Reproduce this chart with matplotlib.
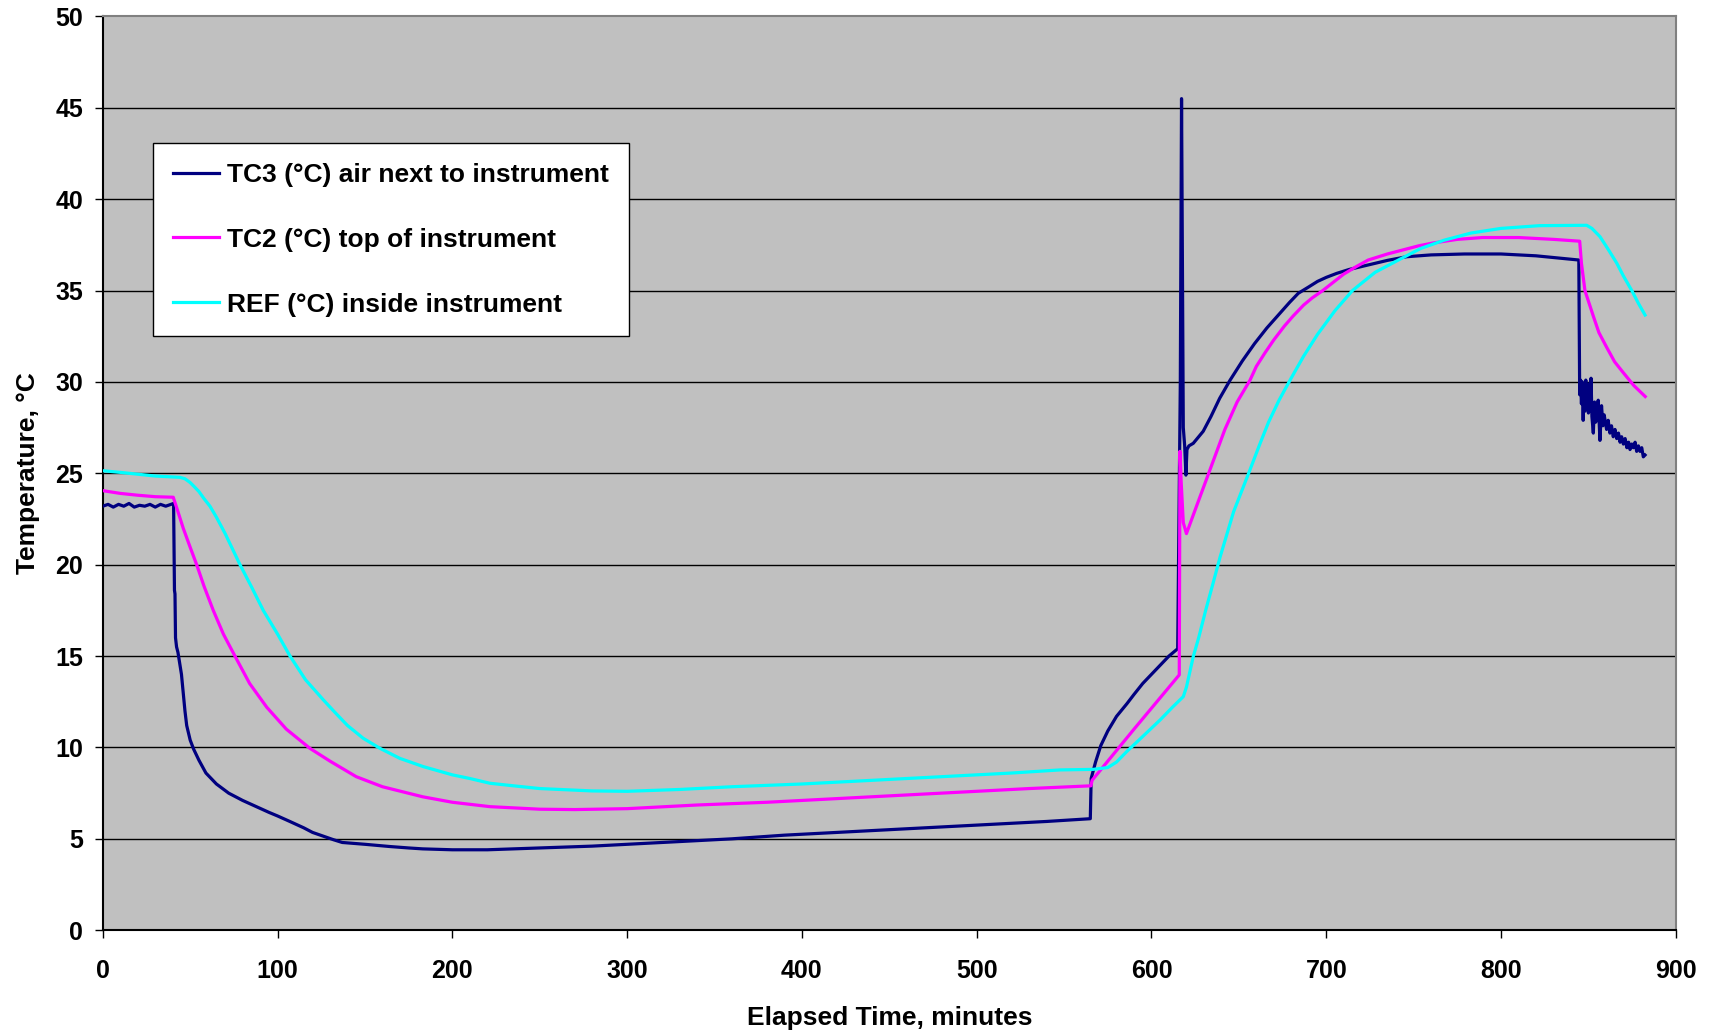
import numpy as np
import matplotlib
matplotlib.use("Agg")
import matplotlib.pyplot as plt

plt.rcParams['font.family'] = ['Liberation Sans', 'DejaVu Sans']
plt.rcParams['font.weight'] = 'bold'

# TC3 (air next to instrument) - elapsed minutes / degC
tc3_time = [0, 3, 6, 9, 12, 15, 18, 21, 24, 27, 30, 33, 36, 39, 40.5,
            40.8, 41.0, 41.3, 41.6, 42.2, 43, 44, 45, 46, 47, 48, 50, 52, 55,
            59, 65, 72, 80, 88, 95, 100, 107, 115, 120, 126, 132, 137, 150,
            164, 175, 183, 200,
            220, 250, 280, 300, 330, 360, 390, 420, 450, 480, 510, 540, 565,
            565.5, 568, 571, 575, 580, 586, 590, 595, 600, 605, 610, 615,
            616.5, 617.2, 617.8, 618.2, 619, 619.7, 620.3, 621.4, 623.9,
            629.6, 634, 639, 645, 652, 659, 666, 673, 679, 684, 690, 695, 700,
            706, 713, 724, 735, 746, 760, 779, 800, 820, 844.5,
            845.0, 845.5, 846.0, 846.5, 847.0, 847.5, 848.0, 848.5, 849.0,
            849.5, 850.0, 850.5, 851.0, 851.5, 852.0, 852.8, 853.5, 854.2,
            855.0, 855.6, 856.6, 857.5, 858.3, 859.0, 860.4, 861.3, 862.3,
            863.2, 864.2, 865.2, 866.2, 867.2, 868.1, 869.0, 870.0, 871.0,
            872.0, 873.0, 873.8, 874.8, 875.7, 876.7, 877.6, 878.6, 879.5,
            880.5, 881.4, 882.4]
tc3_temp = [23.2, 23.3, 23.15, 23.3, 23.2, 23.35, 23.15, 23.25, 23.2, 23.3,
            23.15, 23.3, 23.2, 23.3, 23.35,
            20.5, 18.6, 18.4, 16.0, 15.5, 15.2, 14.6, 14.0, 13.0, 12.0, 11.2,
            10.4, 9.9, 9.3,
            8.6, 8.0, 7.5, 7.1, 6.75, 6.45, 6.25, 5.95, 5.6, 5.35, 5.15, 4.95,
            4.8, 4.7,
            4.58, 4.5, 4.45, 4.4,
            4.4, 4.5, 4.6, 4.7, 4.85, 5.0, 5.2, 5.35, 5.5, 5.65, 5.8, 5.95,
            6.1,
            8.3, 9.2, 10.1, 10.9, 11.7, 12.4, 12.9, 13.5, 14.0, 14.5, 15.0,
            15.4,
            30.0, 45.5, 35.0, 27.5, 26.5, 24.9, 26.3, 26.5, 26.64,
            27.3, 28.1, 29.1, 30.1, 31.15, 32.1, 32.95, 33.7, 34.35, 34.85,
            35.2, 35.5, 35.72,
            35.94, 36.15, 36.4, 36.65, 36.85, 36.95, 37.0, 37.0, 36.9, 36.67,
            29.3, 30.1, 28.8, 30.0, 27.9, 29.8, 28.4, 30.1, 28.6,
            29.4, 28.3, 29.9, 28.4, 30.2, 28.1, 27.2, 28.9, 27.8,
            28.6, 29.0, 26.8, 28.7, 27.6, 28.2, 27.4, 27.9, 27.2,
            27.6, 27.0, 27.4, 26.9, 27.2, 26.7, 27.0, 26.6, 26.9,
            26.4, 26.7, 26.3, 26.6, 26.4, 26.7, 26.2, 26.5, 26.2,
            26.4, 25.9, 26.0]

# TC2 (top of instrument)
tc2_time = [0, 10, 20, 30, 40.3, 43, 46, 50, 53.7, 58, 63.2, 69, 75.6, 84,
            93.8, 105, 118.5, 130, 145, 160, 183, 200, 221.5, 250, 270, 300,
            340, 380, 420, 460, 500, 530, 565.4, 566, 590, 615.9, 616.3, 617.0,
            618.2, 620.0, 625, 633.5, 642, 649, 656.4, 660, 665, 670, 676, 681,
            687, 692, 698, 704, 710, 717, 724, 735, 745, 753, 761, 775, 789.5,
            810, 830, 845, 846, 848, 852.8, 856, 860.4, 865, 870, 876, 882.5]
tc2_temp = [24.05, 23.9, 23.8, 23.72, 23.69, 22.9, 22.0, 20.95, 20.0, 18.8,
            17.5, 16.2, 15.0, 13.5, 12.2, 11.0, 9.95, 9.25, 8.4, 7.85, 7.3,
            7.0, 6.76, 6.62, 6.6, 6.65, 6.85, 7.0, 7.2, 7.4, 7.6, 7.75, 7.9,
            8.2, 11.0, 13.97, 26.2, 24.5, 22.3, 21.7, 23.0, 25.2, 27.4, 28.9,
            30.1, 30.85, 31.6, 32.3, 33.05, 33.6, 34.2, 34.6, 35.0, 35.45,
            35.9, 36.3, 36.67, 37.0, 37.25, 37.45, 37.6, 37.8, 37.9, 37.9,
            37.8, 37.7, 36.5, 35.0, 33.6, 32.7, 31.9, 31.1, 30.5, 29.8, 29.2]

# REF (inside instrument)
ref_time = [0, 10, 20, 30, 44.2, 47, 49.9, 52, 55, 58, 61.3, 65, 70, 74,
            78.5, 85, 91.8, 100, 107.1, 116, 126.2, 133, 140, 149, 158.6, 170,
            183.4, 200, 210, 221.5, 235, 250, 280, 300, 330, 360, 400, 440,
            480, 520, 547.7, 566.7, 575, 580, 585.8, 595, 604.9, 612, 618.2,
            620, 623.9, 627, 631, 635, 639.2, 647, 656.4, 662, 667, 673, 679.3,
            687, 695, 705, 715, 728, 741.3, 754, 767.6, 783, 800, 822, 849,
            852, 856.6, 861, 866.2, 870, 874.8, 878.6, 882.4]
ref_temp = [25.14, 25.05, 24.95, 24.85, 24.78, 24.7, 24.5, 24.3, 24.0, 23.6,
            23.2, 22.6, 21.7, 20.9, 20.0, 18.8, 17.5, 16.2, 15.0, 13.7, 12.6,
            11.9, 11.2, 10.5, 9.95, 9.4, 8.95, 8.5, 8.3, 8.04, 7.9, 7.75,
            7.62, 7.6, 7.7, 7.85, 8.0, 8.2, 8.4, 8.6, 8.77, 8.8, 8.9, 9.2,
            9.77, 10.6, 11.5, 12.2, 12.78, 13.3, 14.97, 16.0, 17.5, 18.9,
            20.4, 22.9, 25.2, 26.6, 27.8, 29.0, 30.1, 31.4, 32.6, 33.9, 35.0,
            36.0, 36.67, 37.3, 37.76, 38.15, 38.4, 38.55, 38.57, 38.4, 37.95,
            37.3, 36.5, 35.8, 35.0, 34.3, 33.66]

labels = ['TC3 (°C) air next to instrument',
          'TC2 (°C) top of instrument',
          'REF (°C) inside instrument']
colors = ['#000080', '#FF00FF', '#00FFFF']

fig = plt.figure(figsize=(17.14, 10.34), dpi=100)
ax = fig.add_axes([0.05998, 0.10039, 0.91774, 0.88375])
ax.set_facecolor('#C0C0C0')

# horizontal gridlines
for yv in range(5, 50, 5):
    ax.axhline(yv, color='black', lw=1.0, zorder=1)

ax.plot(tc3_time, tc3_temp, color=colors[0], lw=2.3, label=labels[0], zorder=3)
ax.plot(tc2_time, tc2_temp, color=colors[1], lw=2.3, label=labels[1], zorder=3)
ax.plot(ref_time, ref_temp, color=colors[2], lw=2.3, label=labels[2], zorder=3)

ax.set_xlim(0, 900)
ax.set_ylim(0, 50)
ax.set_xticks(np.arange(0, 901, 100))
ax.set_yticks(np.arange(0, 51, 5))
ax.tick_params(axis='both', direction='out', length=6, width=1, labelsize=18)
ax.tick_params(axis='x', pad=15)
ax.tick_params(axis='y', pad=8)
for lab in ax.get_xticklabels() + ax.get_yticklabels():
    lab.set_fontweight('bold')

ax.spines['left'].set_color('black')
ax.spines['bottom'].set_color('black')
ax.spines['top'].set_color('#808080')
ax.spines['right'].set_color('#808080')
for s in ax.spines.values():
    s.set_linewidth(1.5)

ax.set_xlabel('Elapsed Time, minutes', fontsize=19, fontweight='bold', labelpad=16)
ax.set_ylabel('Temperature, °C', fontsize=19, fontweight='bold', labelpad=11)

leg = ax.legend(loc='upper left', bbox_to_anchor=(0.032, 0.8615),
                borderaxespad=0, fontsize=19, frameon=True, fancybox=False,
                handlelength=1.75, handletextpad=0.3, labelspacing=1.55,
                borderpad=0.75)
leg.get_frame().set_edgecolor('black')
leg.get_frame().set_linewidth(1.0)
leg.get_frame().set_facecolor('white')
leg.get_frame().set_alpha(1.0)
for t in leg.get_texts():
    t.set_fontweight('bold')

fig.savefig('out.png', dpi=100)
